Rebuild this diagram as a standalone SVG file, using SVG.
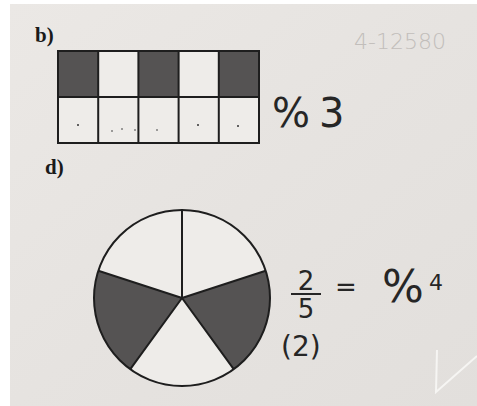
<svg xmlns="http://www.w3.org/2000/svg" width="477" height="406" viewBox="0 0 477 406">
<defs>
<linearGradient id="paper" x1="0" y1="0" x2="1" y2="1">
<stop offset="0" stop-color="#ebe8e5"/>
<stop offset="0.5" stop-color="#e6e3e0"/>
<stop offset="1" stop-color="#e2dfdc"/>
</linearGradient>
<style>
.ln{stroke:#1e1e1e;stroke-width:2;fill:none}
.sh{fill:#555353}
.wh{fill:#eeece9}
.lbl{font-family:"Liberation Serif",serif;font-weight:bold;font-size:21px;fill:#1a1a1a}
.hw{font-family:"DejaVu Sans","Liberation Sans",sans-serif;fill:#262626}
.pen{font-family:"DejaVu Sans","Liberation Sans",sans-serif;font-weight:300;fill:#c2bebb}
.faint{stroke:#f6f5f3;stroke-width:2;fill:none}
</style>
</defs>
<rect width="477" height="406" fill="#ffffff"/>
<rect x="10" y="4" width="467" height="402" fill="url(#paper)"/>
<g id="pencil">
<text class="pen" x="354" y="49" font-size="22">4-12580</text>
<path class="faint" d="M437,350 L436,392 L477,356"/>
</g>
<g id="label-b"><text class="lbl" x="35" y="42">b)</text></g>
<g id="label-d"><text class="lbl" x="45" y="174">d)</text></g>
<g id="grid">
<rect class="wh" x="58" y="51" width="201" height="92"/>
<rect class="sh" x="58" y="51" width="40.2" height="46"/>
<rect class="sh" x="138.4" y="51" width="40.2" height="46"/>
<rect class="sh" x="218.8" y="51" width="40.2" height="46"/>
<rect class="ln" x="58" y="51" width="201" height="92"/>
<path class="ln" d="M58,97 H259 M98.2,51 V143 M138.4,51 V143 M178.6,51 V143 M218.8,51 V143"/>
<g fill="#333">
<circle cx="78" cy="125" r="1"/>
<circle cx="112" cy="131" r="0.8"/>
<circle cx="122" cy="129" r="0.8"/>
<circle cx="135" cy="130" r="0.8"/>
<circle cx="157" cy="130" r="0.8"/>
<circle cx="198" cy="125" r="1"/>
<circle cx="238" cy="126" r="1"/>
</g>
</g>
<g id="answer-b"><text class="hw" x="272" y="127" font-size="40" letter-spacing="9">%3</text></g>
<g id="pie">
<circle cx="182" cy="298" r="88" class="wh"/>
<path class="sh" d="M182,298 L98.3,270.8 A88,88 0 0 0 130.3,369.2 Z"/>
<path class="sh" d="M182,298 L265.7,270.8 A88,88 0 0 1 233.7,369.2 Z"/>
<circle cx="182" cy="298" r="88" class="ln"/>
<path class="ln" d="M182,298 V210 M182,298 L265.7,270.8 M182,298 L233.7,369.2 M182,298 L130.3,369.2 M182,298 L98.3,270.8"/>
</g>
<g id="answer-d">
<text class="hw" x="306" y="290" font-size="26" text-anchor="middle">2</text>
<path d="M291,294 H321" stroke="#262626" stroke-width="2"/>
<text class="hw" x="306" y="318" font-size="26" text-anchor="middle">5</text>
<text class="hw" x="346" y="296" font-size="26" text-anchor="middle">=</text>
<text class="hw" x="382" y="302" font-size="44">%</text>
<text class="hw" x="429" y="290" font-size="22">4</text>
<text class="hw" x="281" y="356" font-size="28">(2)</text>
</g>
</svg>
